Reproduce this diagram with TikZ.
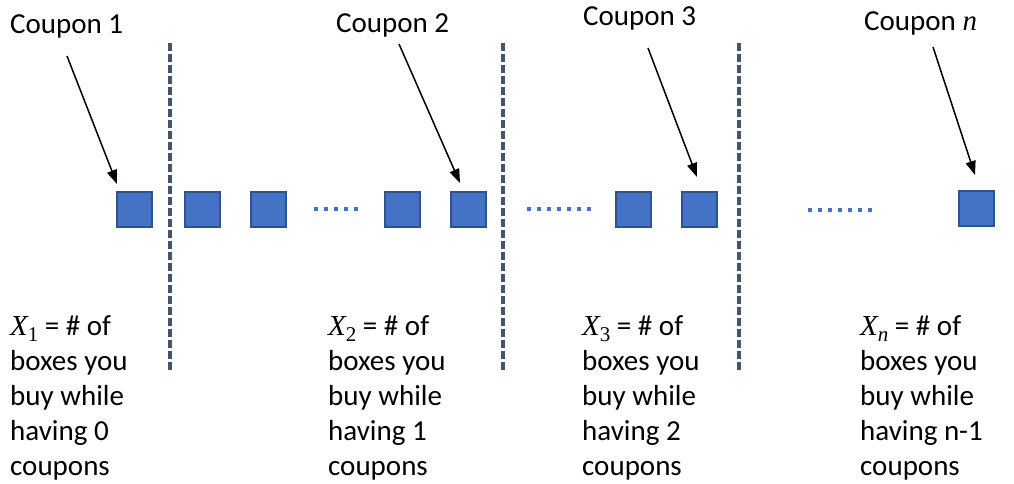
\documentclass[tikz,border=0pt]{standalone}
\usepackage{fontspec}
\setmainfont{Carlito}
\newfontfamily\varfont{Liberation Serif}
\usetikzlibrary{arrows.meta}
\definecolor{boxblue}{HTML}{4472C4}
\definecolor{boxedge}{HTML}{2F528F}
\definecolor{slate}{HTML}{44546A}
% italic variable with a lowered index
\newcommand{\varname}[2]{{\varfont\itshape #1}\raisebox{-0.22em}{\varfont\fontsize{21}{21}\selectfont #2}}
\newcommand{\varsym}[1]{{\varfont\itshape #1}}
\tikzset{
  coupon/.style={draw=boxedge, line width=1.5pt, fill=boxblue, minimum size=35pt, inner sep=0pt, anchor=north west},
  label/.style={anchor=base west, inner sep=0pt, font=\fontsize{29}{35}\selectfont},
  para/.style={anchor=base west, inner sep=0pt, align=left, font=\fontsize{29}{35}\selectfont},
  pointer/.style={line width=1.5pt, -{Triangle[length=14pt,width=10pt]}},
  divider/.style={slate, line width=3.5pt, dash pattern=on 7.5pt off 3.5pt},
  ellipsis/.style={boxblue, line width=4pt, dash pattern=on 4pt off 6pt}
}
\begin{document}
\begin{tikzpicture}[x=1pt, y=-1pt]
\useasboundingbox (0,0) rectangle (1014,483);

% boxes in a row
\node[coupon] (b1) at (116,191) {};
\node[coupon] (b2) at (184,191) {};
\node[coupon] (b3) at (250,191) {};
\node[coupon] (b4) at (384,191) {};
\node[coupon] (b5) at (450,191) {};
\node[coupon] (b6) at (615,191) {};
\node[coupon] (b7) at (681,191) {};
\node[coupon] (b8) at (958,190) {};

% dotted gaps
\coordinate (d1a) at (314,209); \coordinate (d1b) at (358,209);
\coordinate (d2a) at (527,209); \coordinate (d2b) at (593,209);
\coordinate (d3a) at (808,210); \coordinate (d3b) at (874,210);
\draw[ellipsis] (d1a) -- (d1b);
\draw[ellipsis] (d2a) -- (d2b);
\draw[ellipsis] (d3a) -- (d3b);

% dashed separators
\coordinate (s1t) at (170,43); \coordinate (s1b) at (170,371);
\coordinate (s2t) at (503,43); \coordinate (s2b) at (503,371);
\coordinate (s3t) at (739,43); \coordinate (s3b) at (739,371);
\draw[divider] (s1t) -- (s1b);
\draw[divider] (s2t) -- (s2b);
\draw[divider] (s3t) -- (s3b);

% coupon labels
\node[label] (c1) at (10,33) {Coupon 1};
\node[label] (c2) at (336,32) {Coupon 2};
\node[label] (c3) at (583,25) {Coupon 3};
\node[label] (cn) at (864,30) {Coupon \varsym{n}};

% pointers
\coordinate (p1) at (67,56);
\coordinate (p2) at (399,44);
\coordinate (p3) at (648,48);
\coordinate (pn) at (933,47);
\draw[pointer] (p1) -- (117,184);
\draw[pointer] (p2) -- (460,183);
\draw[pointer] (p3) -- (697,177);
\draw[pointer] (pn) -- (975,175);

% descriptions (anchored on the baseline of the last line)
\node[para] (t1) at (10,475) {\varname{X}{1} = \# of\\boxes you\\buy while\\having 0\\coupons};
\node[para] (t2) at (328,475) {\varname{X}{2} = \# of\\boxes you\\buy while\\having 1\\coupons};
\node[para] (t3) at (582,475) {\varname{X}{3} = \# of\\boxes you\\buy while\\having 2\\coupons};
\node[para] (tn) at (860,475) {\varname{X}{\itshape n} = \# of\\boxes you\\buy while\\having n-1\\coupons};
\end{tikzpicture}
\end{document}
